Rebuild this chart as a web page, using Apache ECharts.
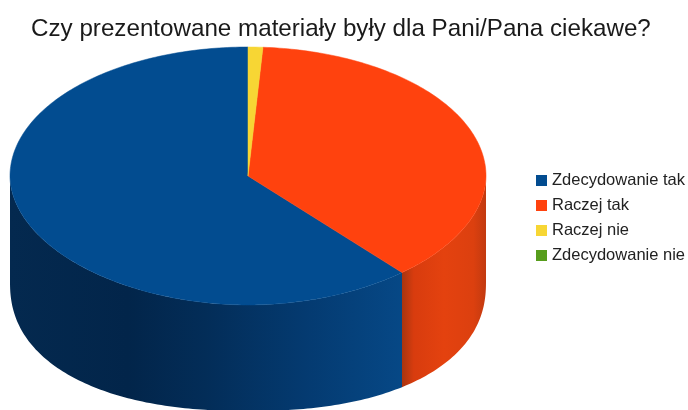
<!DOCTYPE html>
<html><head><meta charset="utf-8">
<style>html,body{margin:0;padding:0;background:#fff}#c{width:688px;height:410px}</style>
<script src="https://cdn.jsdelivr.net/npm/echarts@6/dist/echarts.min.js"></script>
</head><body><div id="c"></div>
<script>
const titleText = 'Czy prezentowane materiały były dla Pani/Pana ciekawe?';
const categories = ['Zdecydowanie tak', 'Raczej tak', 'Raczej nie', 'Zdecydowanie nie'];
const values = [61.2, 37.8, 1, 0];
const colors = ['#024c90', '#ff420e', '#f7d634', '#579d1c'];
const sideStops = [
  [[0,'#04294f'],[0.3,'#02254a'],[0.5,'#032d58'],[0.75,'#043a70'],[1,'#064886']],
  [[0,'#a83510'],[0.14,'#d83c0e'],[0.5,'#e4420f'],[0.85,'#dc400f'],[1,'#c23a10']],
  [[0,'#c8a820'],[1,'#c8a820']],
  [[0,'#3f7514'],[1,'#3f7514']]
];
const cx = 248, cy = 176, rx = 238, ry = 129, depth = 106;
const total = values.reduce((a, b) => a + b, 0);
const DEG = Math.PI / 180;
function pt(a, dy) {
  // rim of the tilted disc; the near edges are slightly squared off by the perspective
  const s = Math.sin(a * DEG), c = Math.cos(a * DEG);
  const e = dy > 0 ? 0.88 : (c < 0 ? 1.03 : 1);
  const h = Math.pow(Math.max(0, 1 - Math.pow(Math.abs(s), 2 / e)), e / 2);
  return [cx + rx * s, cy + dy - Math.sign(c) * ry * h];
}
function arc(a0, a1, dy) {
  const n = Math.max(2, Math.ceil(Math.abs(a1 - a0) / 1)), out = [];
  for (let i = 0; i <= n; i++) out.push(pt(a0 + (a1 - a0) * i / n, dy));
  return out;
}
function sliceRange(idx) {
  // slices run counter-clockwise from 12 o'clock
  let before = 0;
  for (let i = 0; i < idx; i++) before += values[i];
  return [360 - (before + values[idx]) / total * 360, 360 - before / total * 360];
}
const series = categories.map((name, idx) => ({
  name, type: 'custom', coordinateSystem: 'none', silent: true,
  itemStyle: { color: colors[idx] },
  data: [values[idx]],
  renderItem: (params, api) => {
    const children = [];
    if (api.value(0) <= 0) return { type: 'group', children };
    const [a0, a1] = sliceRange(idx);
    const s0 = Math.max(a0, 90), s1 = Math.min(a1, 270);
    if (s1 > s0) {
      const pts = arc(s0, s1, 0).concat(arc(s1, s0, depth));
      children.push({ type: 'polygon', shape: { points: pts },
        style: { fill: new echarts.graphic.LinearGradient(0, 0, 1, 0,
          sideStops[idx].map(([offset, color]) => ({ offset, color }))) } });
    }
    children.push({ type: 'polygon', z2: 5, shape: { points: [[cx, cy]].concat(arc(a0, a1, 0)) },
      style: { fill: colors[idx], stroke: colors[idx], lineWidth: 0.5 } });
    return { type: 'group', children };
  }
}));
const chart = echarts.init(document.getElementById('c'), null, { renderer: 'canvas' });
chart.setOption({
  animation: false, backgroundColor: '#fff',
  title: { text: titleText, left: 26, top: 12,
    textStyle: { fontFamily: 'Liberation Sans', fontSize: 24.2, fontWeight: 'normal', color: '#1a1a1a' } },
  legend: { orient: 'vertical', left: 531, top: 167, icon: 'rect', itemWidth: 11, itemHeight: 11, itemGap: 8,
    data: categories, selectedMode: false,
    textStyle: { fontFamily: 'Liberation Sans', fontSize: 16.5, color: '#222', lineHeight: 16, padding: [0,0,0,0] } },
  series
});
</script></body></html>
